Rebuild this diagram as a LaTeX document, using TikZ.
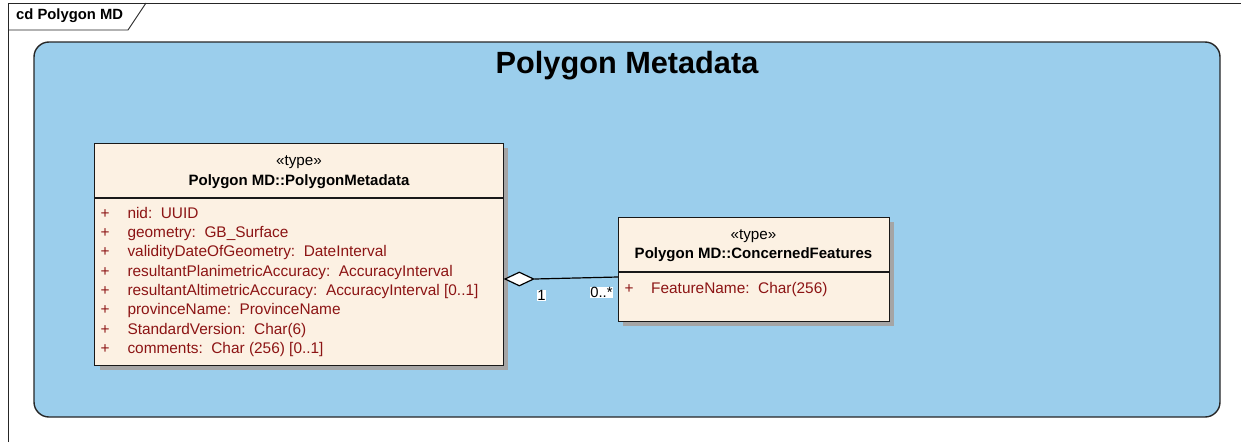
\documentclass[tikz,border=0pt]{standalone}
\usepackage{fontspec}
\setmainfont{Liberation Sans}
\usetikzlibrary{shapes.geometric}
\definecolor{pkgblue}{RGB}{155,206,236}
\definecolor{clsfill}{RGB}{252,241,227}
\definecolor{attrred}{RGB}{140,20,20}
\definecolor{shadowgray}{RGB}{165,165,165}
\tikzset{
  frameline/.style={draw=black!85, line width=0.9pt},
  pkgbox/.style={draw=black!85, line width=1.4pt, fill=pkgblue, rounded corners=15pt},
  classbox/.style={draw=black!90, line width=1.2pt, fill=clsfill, anchor=north west, inner sep=0pt},
  clsshadow/.style={fill=shadowgray},
  stereo/.style={font=\fontsize{15.2}{16}\selectfont, inner sep=0pt},
  clsname/.style={font=\fontsize{15.0}{16}\selectfont\bfseries, inner sep=0pt},
  attr/.style={font=\fontsize{15.4}{16}\selectfont, text=attrred, inner sep=0pt, anchor=base west},
  plus/.style={font=\fontsize{15.4}{16}\selectfont, text=attrred, inner sep=0pt, anchor=base},
  mult/.style={font=\fontsize{14.8}{16}\selectfont, fill=white, inner sep=0.6pt},
  assoc/.style={draw=black, line width=1.2pt},
}
\begin{document}
\begin{tikzpicture}[x=1pt,y=-1pt]
\useasboundingbox (0,0) rectangle (1241,442);
% outer frame
\draw[frameline] (8,442) -- (8,3) -- (1241,3);
\draw[frameline] (8,30) -- (128,30) -- (146,3);
\node[anchor=west, inner sep=0pt, font=\fontsize{14.8}{16}\selectfont\bfseries] (cdlabel) at (16,16) {cd Polygon MD};
% package
\draw[pkgbox] (34,42) rectangle (1220,417);
\node[inner sep=0pt, font=\fontsize{30.7}{32}\selectfont\bfseries] (title) at (627,66) {Polygon Metadata};
% class 1
\fill[clsshadow] (100,148) rectangle (508,370);
\node[classbox, minimum width=409pt, minimum height=222pt] (c1) at (94,143) {};
\draw[line width=1.2pt, black!90] (c1.west |- 0,198) -- (c1.east |- 0,198);
\node[stereo] (c1st) at (299,162) {«type»};
\node[clsname] (c1nm) at (299,182) {Polygon MD::PolygonMetadata};
\foreach \i/\t in {0/{nid:\ \ UUID},
                   1/{geometry:\ \ GB\_Surface},
                   2/{validityDateOfGeometry:\ \ DateInterval},
                   3/{resultantPlanimetricAccuracy:\ \ AccuracyInterval},
                   4/{resultantAltimetricAccuracy:\ \ AccuracyInterval [0..1]},
                   5/{provinceName:\ \ ProvinceName},
                   6/{StandardVersion:\ \ Char(6)},
                   7/{comments:\ \ Char (256) [0..1]}}{
  \node[plus] (c1p\i) at (105,{218+19.37*\i}) {+};
  \node[attr] (c1a\i) at (127.3,{218+19.37*\i}) {\t};
}
% class 2
\fill[clsshadow] (623,222) rectangle (894,326);
\node[classbox, minimum width=271pt, minimum height=104pt] (c2) at (618,217) {};
\draw[line width=1.2pt, black!90] (c2.west |- 0,272) -- (c2.east |- 0,272);
\node[stereo] (c2st) at (753.5,236) {«type»};
\node[clsname] (c2nm) at (753.5,255) {Polygon MD::ConcernedFeatures};
\node[plus] (c2p0) at (629,293) {+};
\node[attr] (c2a0) at (651,293) {FeatureName:\ \ Char(256)};
% association (aggregation)
\node[diamond, draw=black, line width=1.2pt, fill=white, minimum width=29pt, minimum height=14pt, inner sep=0pt, anchor=west] (dia) at (c1.east |- 0,279) {};
\coordinate (e2) at (c2.west |- 0,277);
\draw[assoc] (dia.east) -- (e2);
\node[mult] (m1) at (541.5,295.5) {1};
\node[mult] (m2) at (601.5,292.5) {0..*};
\end{tikzpicture}
\end{document}
